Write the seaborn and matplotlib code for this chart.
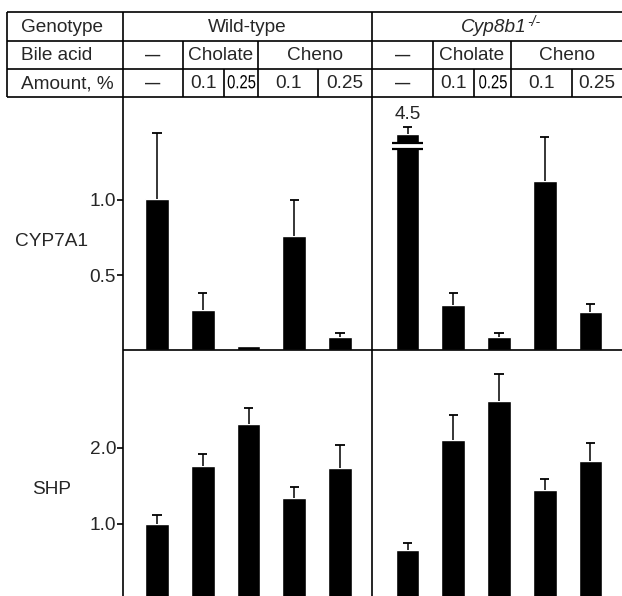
import numpy as np
import pandas as pd
import matplotlib
matplotlib.use('Agg')
import matplotlib.pyplot as plt
import seaborn as sns
from matplotlib.textpath import TextPath
from matplotlib.patches import PathPatch
from matplotlib.font_manager import FontProperties
from matplotlib.transforms import Affine2D

# --- Data (relative mRNA, mean and SEM) ---
conditions = ['None', 'Cholate 0.1', 'Cholate 0.25', 'Cheno 0.1', 'Cheno 0.25']
cyp7a1_wt = [1.01, 0.27, 0.025, 0.76, 0.087]
cyp7a1_wt_sem = [0.44, 0.11, 0.0, 0.24, 0.027]
cyp7a1_ko = [4.5, 0.30, 0.087, 1.13, 0.253]
cyp7a1_ko_sem = [0.05, 0.08, 0.027, 0.29, 0.053]
shp_wt = [1.00, 1.76, 2.32, 1.34, 1.74]
shp_wt_sem = [0.12, 0.16, 0.20, 0.15, 0.30]
shp_ko = [0.66, 2.11, 2.62, 1.45, 1.83]
shp_ko_sem = [0.09, 0.33, 0.35, 0.14, 0.24]
cyp7a1_cap = 1.44  # axis break for the 4.5 bar

# table text
row_titles = ['Genotype', 'Bile acid', 'Amount, %']
genotypes = ['Wild-type', 'Cyp8b1']
ko_sup = '-/-'
bile_acids = ['\u2014', 'Cholate', 'Cheno']
amounts = ['\u2014', '0.1', '0.25', '0.1', '0.25']

sns.set_theme(style='white')
plt.rcParams['font.family'] = ['Liberation Sans', 'DejaVu Sans']
FS = 13.7
LW = 1.2

W, H = 622, 596
fig = plt.figure(figsize=(W / 100, H / 100), dpi=100)

def add_ax(x0, x1, y0, y1):
    return fig.add_axes([x0 / W, 1 - y1 / H, (x1 - x0) / W, (y1 - y0) / H])

def draw_panel(ax, vals, sems, xlim, ylim, ticks=None):
    shown = np.minimum(vals, cyp7a1_cap) if ylim[1] < 2 else np.array(vals)
    df = pd.DataFrame({'cond': conditions, 'val': shown})
    sns.barplot(data=df, x='cond', y='val', ax=ax, color='black', saturation=1,
                width=0.52, errorbar=None, zorder=2)
    # upper-only error bars
    xs = np.arange(len(vals))
    sems = np.array(sems)
    tops = shown + sems
    ax.vlines(xs, shown, tops, color='black', lw=1.1, zorder=3)
    has = sems > 0
    ax.hlines(tops[has], xs[has] - 0.1, xs[has] + 0.1, color='black', lw=1.3, zorder=3)
    ax.set_xlim(*xlim)
    ax.set_ylim(*ylim)
    ax.set_xlabel('')
    ax.set_ylabel('')
    ax.set_xticks([])
    for s in ax.spines.values():
        s.set_visible(False)
    if ticks is not None:
        ax.set_yticks(ticks)
        ax.set_yticklabels([f'{t:.1f}' for t in ticks], fontsize=FS)
        ax.tick_params(axis='y', direction='out', length=4, width=LW, pad=1, left=True, color='black')
    else:
        ax.set_yticks([])
    ax.patch.set_alpha(0)
    return shown

xl_wt = (-0.744, 4.70)
xl_ko = (-0.777, 4.69)
yl_top = (0, 253 / 150)
yl_bot = (4 / 76, 250 / 76)

ax1 = add_ax(123, 372, 97, 350)
draw_panel(ax1, cyp7a1_wt, cyp7a1_wt_sem, xl_wt, yl_top, ticks=[0.5, 1.0])
ax2 = add_ax(372, 622, 97, 350)
shown = draw_panel(ax2, cyp7a1_ko, cyp7a1_ko_sem, xl_ko, yl_top)
# axis break on the first knockout bar
ax2.fill_between([-0.3, 0.3], 1.345, 1.373, color='white', zorder=4)
ax2.hlines([1.378, 1.338], -0.34, 0.34, color='black', lw=1.6, zorder=5)
ax2.text(0, 1.567, f'{cyp7a1_ko[0]:.1f}', ha='center', va='center', fontsize=FS)

ax3 = add_ax(123, 372, 350, 596)
draw_panel(ax3, shp_wt, shp_wt_sem, xl_wt, yl_bot, ticks=[1.0, 2.0])
ax4 = add_ax(372, 622, 350, 596)
draw_panel(ax4, shp_ko, shp_ko_sem, xl_ko, yl_bot)

# --- Table and frame overlay in pixel coordinates ---
ov = fig.add_axes([0, 0, 1, 1], zorder=10)
ov.set_xlim(0, W)
ov.set_ylim(H, 0)
ov.axis('off')
ov.patch.set_alpha(0)

def condensed_text(x, y, s, sx=0.8, size=19):
    # horizontally squeezed label for the narrow cells
    tp = TextPath((0, 0), s, size=size, prop=FontProperties(family='Liberation Sans'))
    ext = tp.get_extents()
    cx = (ext.x0 + ext.x1) / 2
    baseline = 4.3  # offset below the row centre (y axis points down)
    tr = Affine2D().translate(-cx, 0).scale(sx, -1).translate(x, y + baseline)
    ov.add_patch(PathPatch(tr.transform_path(tp), fc='black', ec='none'))

rows = [12, 41, 69, 97]
ov.hlines(rows, 7, W, color='black', lw=LW)
ov.vlines(7, rows[0], rows[-1], color='black', lw=LW)
ov.vlines([123, 372], rows[0], H, color='black', lw=LW)
ov.hlines(350, 123, W, color='black', lw=LW)

cols_wt = [123, 183, 224, 258, 318, 372]
cols_ko = [372, 433, 474, 511, 572, 622]
for cols in (cols_wt, cols_ko):
    ov.vlines([cols[1], cols[3]], rows[1], rows[3], color='black', lw=LW)
    ov.vlines([cols[2], cols[4]], rows[2], rows[3], color='black', lw=LW)

row_mid = [(rows[i] + rows[i + 1]) / 2 + 1 for i in range(3)]
for t, y in zip(row_titles, row_mid):
    ov.text(21, y, t, ha='left', va='center', fontsize=FS)

ov.text((cols_wt[0] + cols_wt[-1]) / 2, row_mid[0], genotypes[0], ha='center', va='center', fontsize=FS)
ov.text(527, row_mid[0], genotypes[1], ha='right', va='center', fontsize=FS, style='italic')
ov.text(527.5, row_mid[0] - 6, ko_sup, ha='left', va='center', fontsize=10, style='italic')

dash_kw = dict(ha='center', va='center', fontsize=11, fontweight='bold')
for cols in (cols_wt, cols_ko):
    spans = [(cols[0], cols[1]), (cols[1], cols[3]), (cols[3], cols[5])]
    for b, (a, c) in zip(bile_acids, spans):
        if b == '\u2014':
            ov.text((a + c) / 2, row_mid[1], b, **dash_kw)
        else:
            ov.text((a + c) / 2, row_mid[1], b, ha='center', va='center', fontsize=FS)
    for i, amt in enumerate(amounts):
        a, c = cols[i], cols[i + 1]
        if amt == '\u2014':
            ov.text((a + c) / 2, row_mid[2], amt, **dash_kw)
        elif (c - a) < 40 and amt == '0.25':
            condensed_text((a + c) / 2 + 0.5, row_mid[2], amt, sx=0.78)
        else:
            ov.text((a + c) / 2, row_mid[2], amt, ha='center', va='center', fontsize=FS)

# row labels for the two genes
ov.text(51, 242, 'CYP7A1', ha='center', va='center', fontsize=FS)
ov.text(52, 490, 'SHP', ha='center', va='center', fontsize=FS)

fig.savefig('out.png', dpi=100)
